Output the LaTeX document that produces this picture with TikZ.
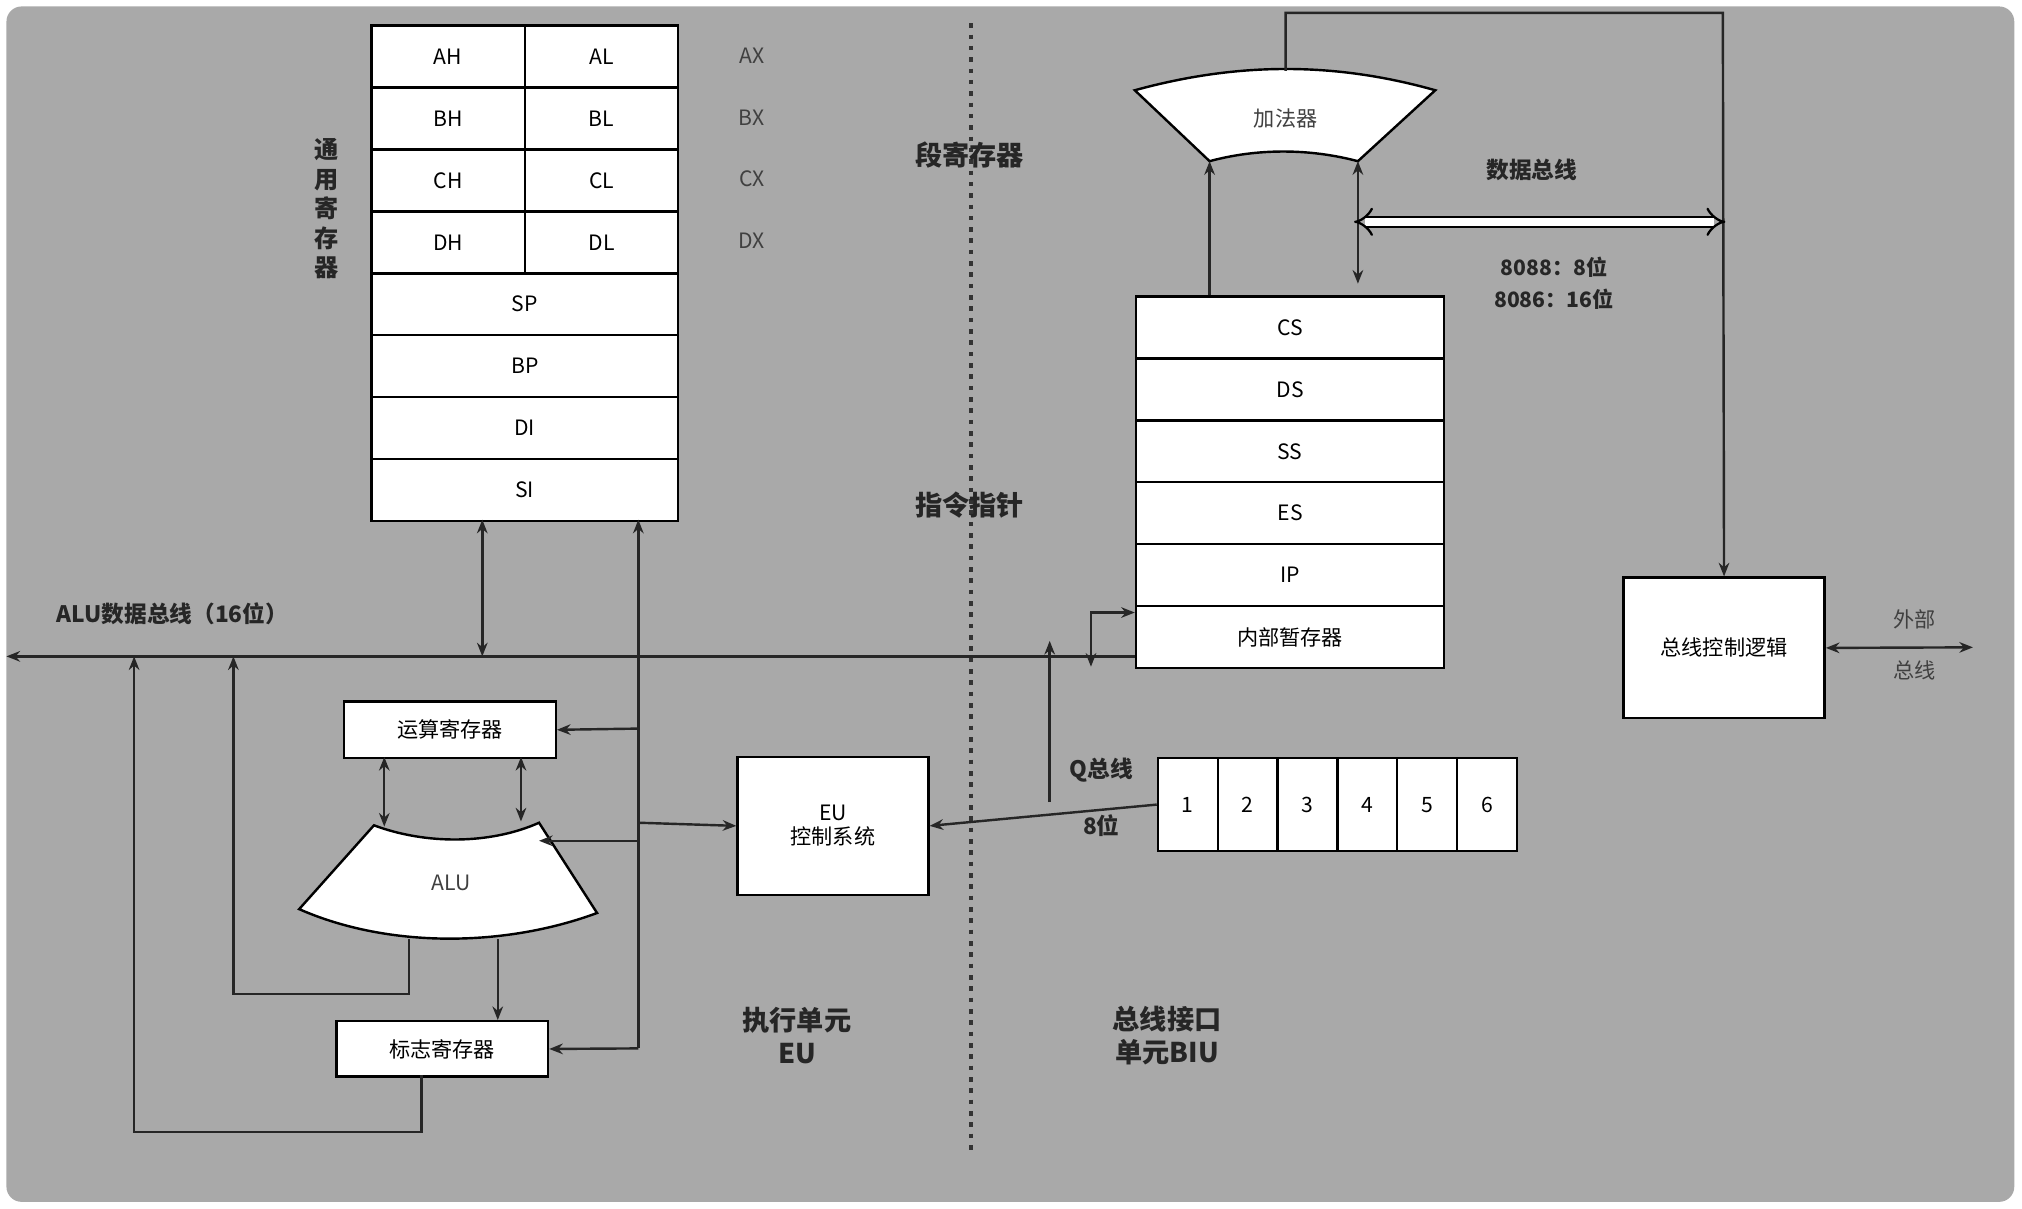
\documentclass[tikz,border=0pt]{standalone}
\usepackage{fontspec}
\setmainfont{Noto Sans CJK SC}
\usetikzlibrary{arrows.meta,positioning}
\definecolor{bg}{HTML}{A9A9A9}
\begin{document}
\begin{tikzpicture}[x=0.03cm,y=-0.03cm,
 box/.style={draw=black,line width=1.6pt,fill=white,inner sep=0pt,font=\fontsize{14}{16}\selectfont},
 lbl/.style={font=\fontsize{14}{16}\selectfont,text=black!75},
 big/.style={font=\bfseries\fontsize{18}{22}\selectfont,align=center,text=black!85},
 ln/.style={line width=1.6pt,draw=black!85},
 ar/.style={ln,-{Stealth[length=9pt,width=7pt]}},
 dar/.style={ln,{Stealth[length=9pt,width=7pt]}-{Stealth[length=9pt,width=7pt]}}]
\useasboundingbox (0,0) rectangle (1568,937);
\fill[bg,rounded corners=10pt] (5,5) rectangle (1562,932);
% general registers
\foreach \n/\a/\b/\y in {ah/AH/AL/19,bh/BH/BL/67,ch/CH/CL/115,dh/DH/DL/163}{
 \node[box,minimum width=119\pgflinewidth,anchor=north west,minimum width=3.57cm,minimum height=1.44cm] (\n) at (287,\y) {\a};
 \node[box,anchor=north west,minimum width=3.57cm,minimum height=1.44cm] (\n r) at (406,\y) {\b};}
\foreach \n/\a/\y in {sp/SP/211,bp/BP/259,di/DI/307,si/SI/355}{
 \node[box,anchor=north west,minimum width=7.14cm,minimum height=1.44cm] (\n) at (287,\y) {\a};}
\foreach \t/\y in {AX/43,BX/91,CX/139,DX/187}{\node[lbl] at (583,\y) {\t};}
\node[big,align=center,font=\bfseries\fontsize{16}{19.5}\selectfont] (gen) at (253,162) {通\\用\\寄\\存\\器};
% dotted divider
\draw[black!80,line width=3pt,dash pattern=on 3pt off 4.5pt] (753,18) -- (753,892);
\node[big] (seg) at (752,120) {段寄存器};
\node[big] (ipl) at (752,392) {指令指针};
% adder
\draw[box,fill=white] (880,70) .. controls (960,48) and (1035,48) .. (1113,70) -- (1053,125) .. controls (1015,115) and (975,115) .. (938,125) -- cycle;
\node[lbl] (add) at (997,92) {加法器};
\coordinate (addtop) at (997,55);
% segment registers
\foreach \n/\a/\y in {cs/CS/229,ds/DS/277,ss/SS/325,es/ES/373,ip/IP/421,tmp/内部暂存器/469}{
 \node[box,anchor=north west,minimum width=7.17cm,minimum height=1.44cm] (\n) at (880,\y) {\a};}
% bus control logic
\node[box,anchor=north west,minimum width=4.68cm,minimum height=3.27cm] (bcl) at (1258,447) {总线控制逻辑};
\draw[ar] (addtop) -- (997,10) -- (1336,10) -- (bcl.north);
\draw[ar] (938,229) -- (938,125);
\draw[dar] (1053,125) -- (1053,220);
\coordinate (db1) at (1050,172); \coordinate (db2) at (1338,172);
\draw[line width=1.5pt,double=white,double distance=5pt,{Implies}-{Implies}] (db1) -- (db2);
\node[big,font=\bfseries\fontsize{15}{18}\selectfont] (dbl) at (1188,132) {数据总线};
\node[big,font=\bfseries\fontsize{14}{17}\selectfont] (w1) at (1205,207) {8088：8位};
\node[big,font=\bfseries\fontsize{14}{17}\selectfont] (w2) at (1205,232) {8086：16位};
\coordinate (ext) at (1530,502);
\draw[dar] (bcl.east) -- (ext);
\node[lbl] (e1) at (1485,480) {外部};
\node[lbl] (e2) at (1485,520) {总线};
% ALU data bus
\coordinate (busL) at (5,509); \coordinate (busR) at (880,509);
\draw[ar] (busR) -- (busL);
\node[big,font=\bfseries\fontsize{15}{18}\selectfont,anchor=west] (busl) at (40,476) {ALU数据总线（16位）};
\draw[dar] (374,403) -- (374,509);
% EU side
\node[box,anchor=north west,minimum width=4.92cm,minimum height=1.32cm] (opr) at (266,543) {运算寄存器};
\node[box,anchor=north west,minimum width=4.92cm,minimum height=1.29cm] (flag) at (260,791) {标志寄存器};
\node[box,anchor=north west,minimum width=4.44cm,minimum height=3.21cm,align=center] (eu) at (571,586) {EU\\控制系统};
\draw[box,fill=white] (290,640) .. controls (330,655) and (380,655) .. (418,638) -- (463,708) .. controls (390,735) and (300,735) .. (232,705) -- cycle;
\node[lbl] (alu) at (350,685) {ALU};
\draw[ar] (495,813) -- (495,403);
\draw[ar] (495,565) -- (opr.east);
\draw[ar] (495,652) -- (418,652);
\draw[ar] (495,813) -- (flag.east);
\draw[ar] (495,638) -- (eu.west);
\draw[dar] (298,587) -- (298,641);
\draw[dar] (404,587) -- (404,637);
\draw[ar] (317,728) -- (317,771) -- (181,771) -- (181,509);
\draw[ar] (386,728) -- (flag.north -| 386,0);
\draw[ar] (327,834) -- (327,878) -- (104,878) -- (104,509);
% queue
\foreach \i in {1,...,6}{
 \node[box,anchor=north west,minimum width=1.392cm,minimum height=2.16cm] (q\i) at ({897+(\i-1)*46.4},587) {\i};}
\draw[ar] (q1.west) -- (eu.east);
\draw[ar] (814,622) -- (814,497);
\draw[ln,{Stealth[length=9pt,width=7pt]}-{Stealth[length=9pt,width=7pt]}] (846,517) -- (846,475) -- (tmp.west |- 0,475);
\node[big,font=\bfseries\fontsize{15}{18}\selectfont] (qb) at (854,597) {Q总线};
\node[big,font=\bfseries\fontsize{15}{18}\selectfont] (qw) at (854,640) {8位};
\node[big] (exu) at (618,803) {执行单元\\EU};
\node[big] (biu) at (905,803) {总线接口\\单元BIU};
\end{tikzpicture}
\end{document}
